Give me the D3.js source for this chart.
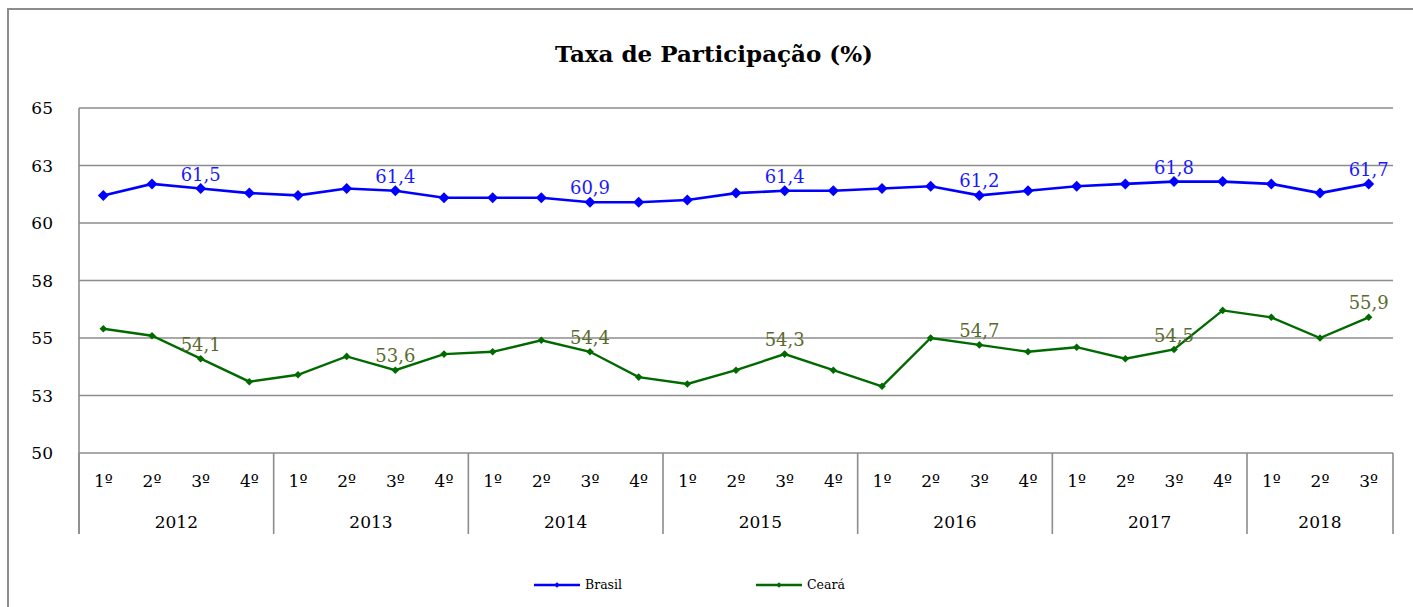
<!DOCTYPE html>
<html>
<head>
<meta charset="utf-8">
<script src="https://cdn.jsdelivr.net/npm/d3@7"></script>
<style>
  body { margin: 0; background: #fff; }
  svg text { font-family: "DejaVu Serif", serif; }
</style>
</head>
<body>
<div id="chart"></div>
<script>
// quarters and years (27 periods, 2012 Q1 .. 2018 Q3)
var quarters = ["1º","2º","3º","4º","1º","2º","3º","4º","1º","2º","3º","4º","1º","2º","3º","4º",
                "1º","2º","3º","4º","1º","2º","3º","4º","1º","2º","3º"];
var years = ["2012","2012","2012","2012","2013","2013","2013","2013","2014","2014","2014","2014",
             "2015","2015","2015","2015","2016","2016","2016","2016","2017","2017","2017","2017",
             "2018","2018","2018"];
var brasil = [61.2, 61.7, 61.5, 61.3, 61.2, 61.5, 61.4, 61.1, 61.1, 61.1, 60.9, 60.9, 61.0, 61.3,
              61.4, 61.4, 61.5, 61.6, 61.2, 61.4, 61.6, 61.7, 61.8, 61.8, 61.7, 61.3, 61.7];
var ceara = [55.4, 55.1, 54.1, 53.1, 53.4, 54.2, 53.6, 54.3, 54.4, 54.9, 54.4, 53.3, 53.0, 53.6,
             54.3, 53.6, 52.9, 55.0, 54.7, 54.4, 54.6, 54.1, 54.5, 56.2, 55.9, 55.0, 55.9];
var labelIdx = [2, 6, 10, 14, 18, 22, 26];
var yTicks = [50, 52.5, 55, 57.5, 60, 62.5, 65];
var yTickLabels = ["50", "53", "55", "58", "60", "63", "65"];

var W = 1413, H = 607;
var plotL = 79, plotR = 1393, plotT = 108, plotB = 453, axisB = 534;
var gridColor = "#8c8c8c";

var svg = d3.select("#chart").append("svg")
    .attr("width", W).attr("height", H);

// outer chart frame
svg.append("path")
    .attr("d", "M8," + H + "V9H" + W)
    .attr("fill", "none").attr("stroke", gridColor).attr("stroke-width", 2);

svg.append("text")
    .attr("x", 714).attr("y", 62)
    .attr("text-anchor", "middle")
    .attr("font-weight", "bold").attr("font-size", 22)
    .attr("textLength", 318).attr("lengthAdjust", "spacingAndGlyphs")
    .text("Taxa de Participação (%)");

var x = d3.scaleBand().domain(d3.range(quarters.length)).range([plotL, plotR]).padding(0);
var y = d3.scaleLinear().domain([50, 65]).range([plotB, plotT]);
var cx = function(i){ return x(i) + x.bandwidth() / 2; };

var fmt = d3.formatLocale({decimal: ",", thousands: ".", grouping: [3], currency: ["R$", ""]}).format(".1f");

// gridlines
svg.append("g").selectAll("line").data(yTicks).enter().append("line")
    .attr("x1", plotL).attr("x2", plotR)
    .attr("y1", function(d){ return y(d); }).attr("y2", function(d){ return y(d); })
    .attr("stroke", gridColor).attr("stroke-width", 1.6);

svg.append("g").selectAll("text").data(yTicks).enter().append("text")
    .attr("x", 53).attr("y", function(d){ return y(d); })
    .attr("dy", "0.36em").attr("text-anchor", "end").attr("font-size", 17)
    .text(function(d, i){ return yTickLabels[i]; });

// value axis line
svg.append("line").attr("x1", plotL).attr("x2", plotL).attr("y1", plotT).attr("y2", axisB)
    .attr("stroke", gridColor).attr("stroke-width", 1.6);

// year dividers
var yearStarts = [];
years.forEach(function(yr, i){ if (i === 0 || years[i-1] !== yr) yearStarts.push(i); });
var dividers = yearStarts.map(function(i){ return x(i); }).concat([plotR]);
svg.append("g").selectAll("line").data(dividers).enter().append("line")
    .attr("x1", function(d){ return d; }).attr("x2", function(d){ return d; })
    .attr("y1", plotB).attr("y2", axisB)
    .attr("stroke", gridColor).attr("stroke-width", 1.6);

svg.append("g").selectAll("text").data(quarters).enter().append("text")
    .attr("x", function(d, i){ return cx(i); }).attr("y", 487)
    .attr("text-anchor", "middle").attr("font-size", 17)
    .text(function(d){ return d; });

svg.append("g").selectAll("text").data(yearStarts).enter().append("text")
    .attr("x", function(s, k){
        var e = k + 1 < yearStarts.length ? yearStarts[k+1] : quarters.length;
        return (x(s) + (e < quarters.length ? x(e) : plotR)) / 2;
    })
    .attr("y", 528).attr("text-anchor", "middle").attr("font-size", 17)
    .text(function(s){ return years[s]; });

function diamond(r){ return "M0," + (-r) + "L" + r + ",0L0," + r + "L" + (-r) + ",0Z"; }

var series = [
    {name: "Brasil", values: brasil, color: "#0000ff", label: "#1a1aff", r: 5.5, w: 2.6},
    {name: "Ceará", values: ceara, color: "#006a00", label: "#5a6a2e", r: 3.8, w: 2.4}
];

var line = d3.line().x(function(d, i){ return cx(i); }).y(function(d){ return y(d); });

series.forEach(function(s){
    var g = svg.append("g");
    g.append("path").datum(s.values).attr("d", line)
        .attr("fill", "none").attr("stroke", s.color).attr("stroke-width", s.w);
    g.selectAll(".pt").data(s.values).enter().append("path")
        .attr("class", "pt")
        .attr("transform", function(d, i){ return "translate(" + cx(i) + "," + y(d) + ")"; })
        .attr("d", diamond(s.r)).attr("fill", s.color);
    g.selectAll(".lbl").data(labelIdx).enter().append("text")
        .attr("class", "lbl")
        .attr("x", function(i){ return cx(i); })
        .attr("y", function(i){ return y(s.values[i]) - 8; })
        .attr("text-anchor", "middle").attr("font-size", 18).attr("fill", s.label)
        .text(function(i){ return fmt(s.values[i]); });
});

// legend
var legendX = [534, 756];
var lg = svg.append("g").selectAll("g").data(series).enter().append("g")
    .attr("transform", function(d, i){ return "translate(" + legendX[i] + ",585)"; });
lg.append("line").attr("x1", 0).attr("x2", 46)
    .attr("stroke", function(d){ return d.color; }).attr("stroke-width", 2.4);
lg.append("path").attr("transform", "translate(23,0)").attr("d", diamond(2.8))
    .attr("fill", function(d){ return d.color; });
lg.append("text").attr("x", 51).attr("dy", "0.35em").attr("font-size", 12.5)
    .text(function(d){ return d.name; });
</script>
</body>
</html>
